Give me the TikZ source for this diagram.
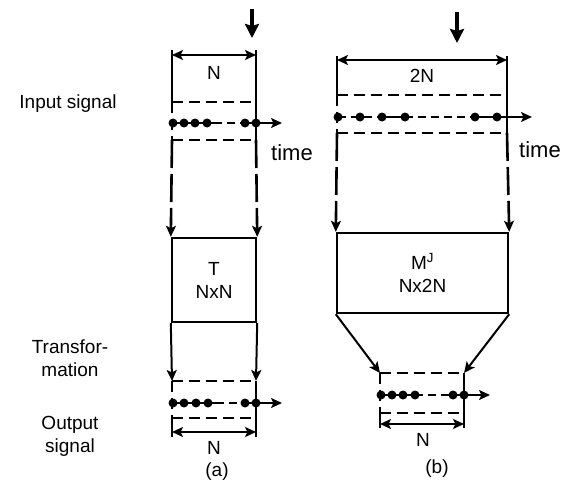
\documentclass[tikz,border=0pt]{standalone}
\usepackage{fontspec}
\setmainfont{Liberation Sans}
\usetikzlibrary{arrows.meta,positioning}

\begin{document}
\begin{tikzpicture}[x=1pt,y=-1pt,
  font=\fontsize{19}{23}\selectfont,
  line width=2pt,
  tip/.style={-{Stealth[length=11pt,width=10pt,inset=2.5pt]}},
  dim/.style={{Stealth[length=11pt,width=10pt,inset=2.5pt]}-{Stealth[length=11pt,width=10pt,inset=2.5pt]}},
  feedin/.style={-{Stealth[length=14pt,width=14pt,inset=2pt]},line width=3.2pt},
  win/.style={dash pattern=on 11pt off 6pt,line width=2.6pt},
  gap/.style={dash pattern=on 8pt off 5pt,line width=2pt},
  feed/.style={tip,dash pattern=on 28pt off 6pt,line width=2.6pt},
  mat/.style={draw,line width=2.4pt,align=center,inner sep=0pt},
  sample/.style={circle,fill,inner sep=0pt,minimum size=9pt},
  lbl/.style={align=center}]
  \useasboundingbox (0,0) rectangle (572,487);

  % row labels
  \node[lbl] (inlbl) at (68,104) {Input signal};
  \node[lbl] (trlbl) at (70,358) {Transfor-\\mation};
  \node[lbl] (outlbl) at (70,436) {Output\\signal};

  %%% (a) square transform
  \coordinate (a-src) at (252,9);
  \coordinate (a-srcend) at (252,38);
  \draw[feedin] (a-src) -- (a-srcend);
  \coordinate (a-dl) at (172,55);
  \coordinate (a-dr) at (256,55);
  \draw[dim] (a-dl) -- (a-dr);
  \node (a-N) at (214,73) {N};
  % input window
  \coordinate (a-tl) at (172,102);
  \coordinate (a-tr) at (256,102);
  \coordinate (a-bl) at (172,140);
  \coordinate (a-br) at (256,140);
  \draw (172,50) -- (a-tl);
  \draw (256,50) -- (a-tr);
  \draw[win] (a-tl) -- (a-tr);
  \draw[win] (a-bl) -- (a-br);
  \draw[win] (a-tl) -- (a-bl);
  \draw (a-tr) -- (a-br);
  \foreach \x [count=\i] in {173,184,195,207,245,256}
    \node[sample] (a-s\i) at (\x,123) {};
  \coordinate (a-t) at (282,123);
  \draw (a-s1.center) -- (a-s4.center) -- (214,123);
  \draw[gap] (214,123) -- (a-s5.center);
  \draw[tip] (a-s5.center) -- (a-t);
  \node (a-time) at (292,153) {\fontsize{22}{24}\selectfont time};
  % transform
  \node[mat,minimum width=84pt,minimum height=84pt] (T) at (214,280) {T\\NxN};
  \draw[feed] (a-bl) -- (T.north west);
  \draw[feed] (a-br) -- (T.north east);
  % output window
  \coordinate (a-otl) at (172,381);
  \coordinate (a-otr) at (256,381);
  \coordinate (a-obl) at (172,418);
  \coordinate (a-obr) at (256,418);
  \draw[tip] (T.south west) -- (a-otl);
  \draw[tip] (T.south east) -- (a-otr);
  \draw[win] (a-otl) -- (a-otr);
  \draw[win] (a-obl) -- (a-obr);
  \draw[win] (a-otl) -- (a-obl);
  \draw (a-otr) -- (a-obr);
  \foreach \x [count=\i] in {173,184,196,208,245,256}
    \node[sample] (a-o\i) at (\x,403) {};
  \coordinate (a-ot) at (282,403);
  \draw (a-o1.center) -- (a-o4.center) -- (216,403);
  \draw[gap] (216,403) -- (a-o5.center);
  \draw[tip] (a-o5.center) -- (a-ot);
  \draw (a-obl) -- (172,437);
  \draw (a-obr) -- (256,437);
  \draw[dim] (172,432) -- (256,432);
  \node (a-oN) at (214,448) {N};
  \node (a-cap) at (217,472) {(a)};

  %%% (b) 2N-to-N transform
  \coordinate (b-src) at (457,12);
  \coordinate (b-srcend) at (457,43);
  \draw[feedin] (b-src) -- (b-srcend);
  \draw[dim] (337,60) -- (507,60);
  \node (b-N) at (422,76) {2N};
  % input window
  \coordinate (b-tl) at (337,95);
  \coordinate (b-tr) at (507,95);
  \coordinate (b-bl) at (337,133);
  \coordinate (b-br) at (507,133);
  \draw (337,56) -- (b-tl);
  \draw (507,56) -- (b-tr);
  \draw[win] (b-tl) -- (b-tr);
  \draw[win] (b-bl) -- (b-br);
  \draw[win] (b-tl) -- (b-bl);
  \draw (b-tr) -- (b-br);
  \foreach \x [count=\i] in {338,360,382,405,475,497}
    \node[sample] (b-s\i) at (\x,117) {};
  \coordinate (b-t) at (532,117);
  \draw[gap] (b-s1.center) -- (b-s3.center);
  \draw (b-s3.center) -- (b-s4.center);
  \draw[gap] (b-s4.center) -- (b-s5.center);
  \draw[tip] (b-s5.center) -- (b-t);
  \node (b-time) at (540,150) {\fontsize{22}{24}\selectfont time};
  % transform
  \node[mat,minimum width=171pt,minimum height=80pt] (M) at (422.5,273) {M\textsuperscript{J}\\Nx2N};
  \draw[feed] (b-bl) -- (M.north west);
  \draw[feed] (b-br) -- (M.north east);
  % output window
  \coordinate (b-otl) at (380,373);
  \coordinate (b-otr) at (464,373);
  \coordinate (b-obl) at (380,413);
  \coordinate (b-obr) at (464,413);
  \draw[tip] (M.south west) -- (b-otl);
  \draw[tip] (M.south east) -- (b-otr);
  \draw[win] (b-otl) -- (b-otr);
  \draw[win] (b-obl) -- (b-obr);
  \draw[win] (b-otl) -- (b-obl);
  \draw (b-otr) -- (b-obr);
  \foreach \x [count=\i] in {381,392,403,415,453,464}
    \node[sample] (b-o\i) at (\x,395) {};
  \coordinate (b-ot) at (490,395);
  \draw (b-o1.center) -- (b-o4.center);
  \draw[gap] (b-o4.center) -- (b-o5.center);
  \draw[tip] (b-o5.center) -- (b-ot);
  \draw (b-obl) -- (380,428);
  \draw (b-obr) -- (464,428);
  \draw[dim] (380,424) -- (464,424);
  \node (b-oN) at (423,440) {N};
  \node (b-cap) at (437,469) {(b)};
\end{tikzpicture}
\end{document}
